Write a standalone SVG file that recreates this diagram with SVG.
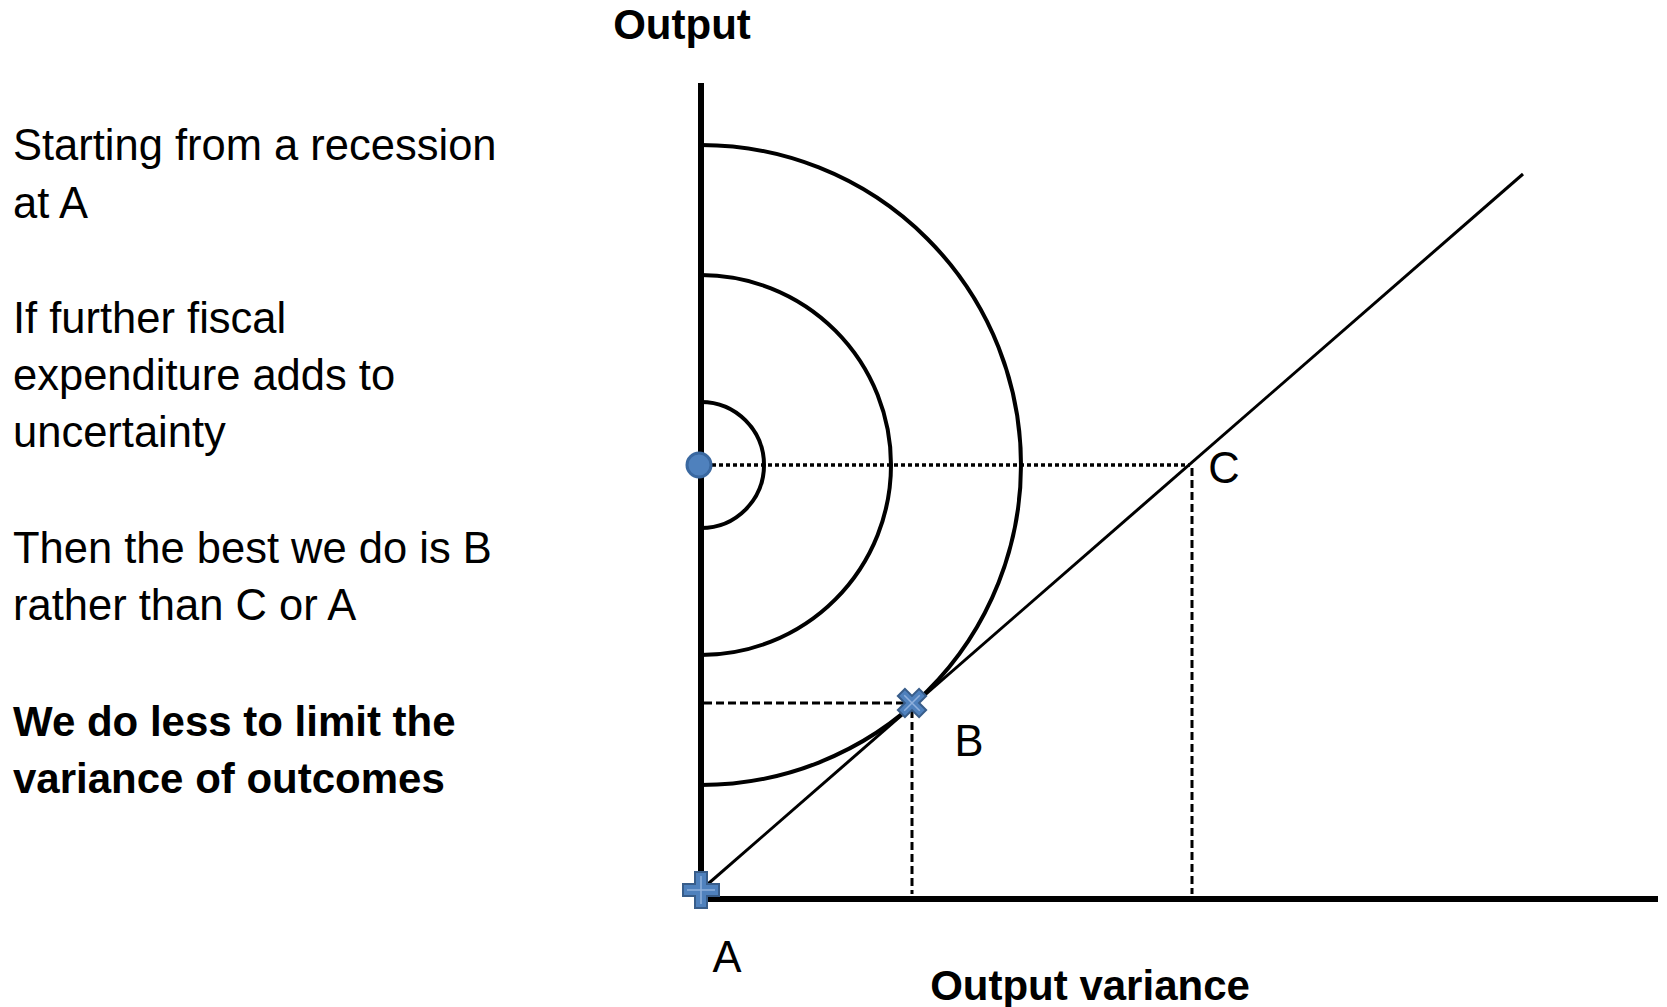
<svg xmlns="http://www.w3.org/2000/svg" width="1667" height="1007" viewBox="0 0 1667 1007">
<style>
text{font-family:"Liberation Sans",Arial,sans-serif;font-size:43.5px;fill:#000}
.b{font-weight:bold;font-size:42px}
.m{text-anchor:middle}
.arc{fill:none;stroke:#000;stroke-width:4}
.axis{stroke:#000;stroke-width:6;fill:none}
.dot{stroke:#000;stroke-width:3.5;stroke-dasharray:4 3;fill:none}
.dash{stroke:#000;stroke-width:3;stroke-dasharray:8 4;fill:none}
.mk{fill:#4f81bd;stroke:#385d8a;stroke-width:2}
.mi{stroke:#8fb0dc;stroke-width:1.5;fill:none}
</style>
<rect width="1667" height="1007" fill="#fff"/>
<g id="text-left">
<text x="13" y="160">Starting from a recession</text>
<text x="13" y="218">at A</text>
<text x="13" y="333">If further fiscal</text>
<text x="13" y="390">expenditure adds to</text>
<text x="13" y="447">uncertainty</text>
<text x="13" y="563">Then the best we do is B</text>
<text x="13" y="620">rather than C or A</text>
<text class="b" x="13" y="736">We do less to limit the</text>
<text class="b" x="13" y="793">variance of outcomes</text>
</g>
<g id="indifference-curves">
<path class="arc" d="M701,402 A63,63 0 0 1 701,528"/>
<path class="arc" d="M701,275 A190,190 0 0 1 701,655"/>
<path class="arc" d="M701,145 A320,320 0 0 1 701,785"/>
</g>
<g id="connectors">
<line class="dot" x1="712" y1="465" x2="1190" y2="465"/>
<line class="dash" x1="704" y1="703" x2="906" y2="703"/>
<line class="dash" x1="912" y1="710" x2="912" y2="894"/>
<line class="dash" x1="1192" y1="468" x2="1192" y2="894"/>
<line x1="701" y1="890" x2="1523" y2="174" stroke="#000" stroke-width="3"/>
<line class="axis" x1="701" y1="83" x2="701" y2="899"/>
<line class="axis" x1="698" y1="899" x2="1658" y2="899"/>
</g>
<g id="point-origin">
<circle cx="699" cy="465" r="12" fill="#4f81bd" stroke="#3a68a0" stroke-width="3"/>
</g>
<g id="point-A">
<path class="mk" d="M695,872 h12 v12 h12 v12 h-12 v12 h-12 v-12 h-12 v-12 h12 z"/>
<path class="mi" d="M701,876 v28 M687,890 h28"/>
<text class="m" x="727" y="972">A</text>
</g>
<g id="point-B">
<path class="mk" transform="translate(912,703) rotate(45)" d="M-5,-15 h10 v10 h10 v10 h-10 v10 h-10 v-10 h-10 v-10 h10 z"/>
<path class="mi" transform="translate(912,703) rotate(45)" d="M0,-11 v22 M-11,0 h22"/>
<text class="m" x="969" y="756">B</text>
</g>
<g id="point-C">
<text class="m" x="1224" y="483">C</text>
</g>
<g id="axis-labels">
<text class="b m" x="682" y="39">Output</text>
<text class="b m" x="1090" y="1000">Output variance</text>
</g>
</svg>
